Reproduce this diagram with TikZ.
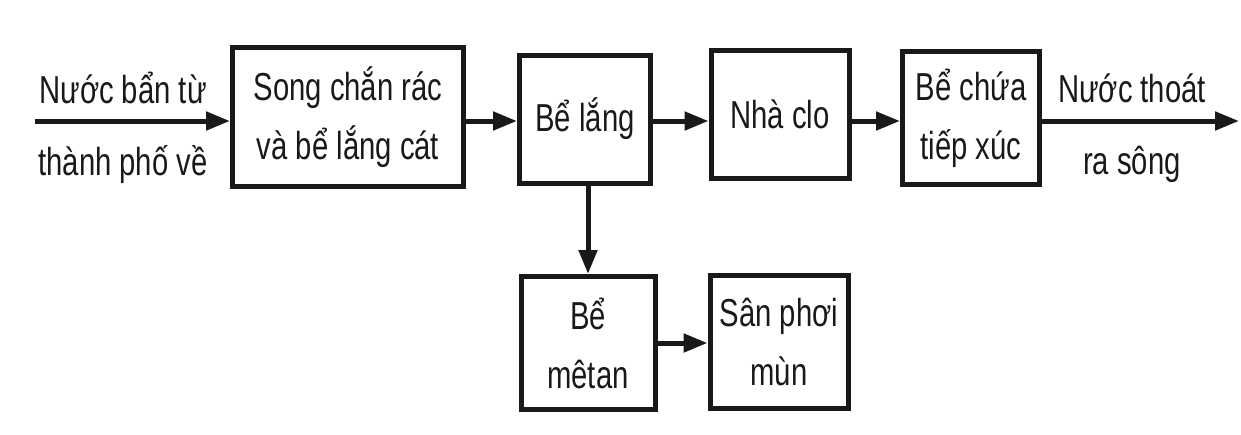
\documentclass[tikz,border=0pt]{standalone}
\usepackage{fontspec}
\setmainfont{Liberation Sans}[FakeStretch=0.75]
\usetikzlibrary{arrows.meta}
\begin{document}
\begin{tikzpicture}[x=1pt,y=-1pt,
  box/.style={draw=black!90,line width=5pt,align=center,inner sep=0pt,text=black!90,
    font=\fontsize{39}{59}\selectfont},
  lbl/.style={align=center,inner sep=0pt,text=black!90,font=\fontsize{39}{72}\selectfont},
  arr/.style={line width=5pt,draw=black!90,-{Triangle[length=24pt,width=18pt]}}]
\useasboundingbox (0,0) rectangle (1241,434);
\node[box,minimum width=231pt,minimum height=139pt] (b1) at (348,117) {Song chắn rác\\và bể lắng cát};
\node[box,minimum width=131pt,minimum height=128pt] (b2) at (585,119) {Bể lắng};
\node[box,minimum width=138pt,minimum height=128pt] (b3) at (780,114) {Nhà clo};
\node[box,minimum width=137pt,minimum height=133pt] (b4) at (971,118) {Bể chứa\\tiếp xúc};
\node[box,minimum width=134pt,minimum height=133pt] (b5) at (588,343) {Bể\\mêtan};
\node[box,minimum width=138pt,minimum height=133pt] (b6) at (779,342) {Sân phơi\\mùn};
\node[lbl] (tin) at (123,128) {Nước bẩn từ\\thành phố về};
\node[lbl] (tout) at (1132,128) {Nước thoát\\ra sông};
\coordinate (ya) at (0,121);
\coordinate (in) at (35,121);
\coordinate (out) at (1239,121);
\draw[arr] (in) -- (b1.west|-ya);
\draw[arr] (b1.east|-ya) -- (b2.west|-ya);
\draw[arr] (b2.east|-ya) -- (b3.west|-ya);
\draw[arr] (b3.east|-ya) -- (b4.west|-ya);
\draw[arr] (b4.east|-ya) -- (out);
\draw[arr] (b2.south-|b5.north) -- (b5.north);
\draw[arr] (b5.east) -- (b6.west|-b5.east);
\end{tikzpicture}
\end{document}
